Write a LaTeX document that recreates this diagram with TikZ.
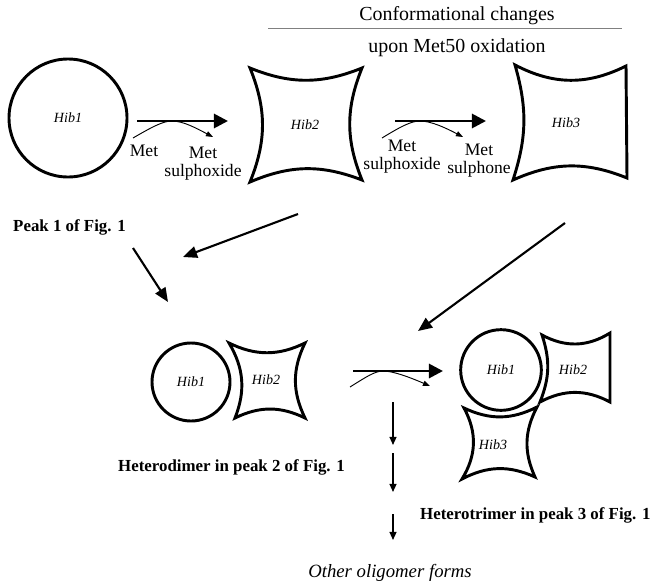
\documentclass[tikz,border=0pt]{standalone}
\usepackage{fontspec}
\setmainfont{Liberation Serif}
\usetikzlibrary{arrows.meta}

\begin{document}
\begin{tikzpicture}[x=0.03cm, y=-0.03cm,
    shell/.style={line width=2.5pt},
    ball/.style={circle, draw, line width=2.5pt, inner sep=0pt},
    react/.style={line width=2.4pt, -{Triangle[length=12pt, width=12pt]}},
    side/.style={line width=0.8pt, -{Triangle[length=6pt, width=4.5pt]}},
    flow/.style={line width=1.8pt, -{Triangle[length=12pt, width=10pt]}},
    drop/.style={line width=1.3pt, -{Triangle[length=7pt, width=6pt]}},
    lab/.style={font=\fontsize{12}{14}\selectfont\itshape},
    met/.style={font=\fontsize{15}{16}\selectfont, align=center, inner sep=0pt},
    head/.style={font=\fontsize{17}{20}\selectfont},
    peak/.style={font=\fontsize{14.4}{16}\selectfont\bfseries, anchor=west, inner sep=0pt}]
    \useasboundingbox (0,0) rectangle (651,586);

    % monomers
    \node[ball, minimum size=3.54cm, lab] (hib1) at (68,118) {Hib1};
    \node[lab] (hib2) at (305,125) {Hib2};
    \node[lab] (hib3) at (566,123) {Hib3};
    \draw[shell] (250,68) to[bend right=22] (362,68) to[bend right=22] (362,180)
        to[bend right=22] (250,182) to[bend right=22] cycle;
    \draw[shell] (515,65) to[bend right=27] (626,66) -- (627,178)
        to[bend right=23] (513,180) to[bend right=17] cycle;

    % heading
    \node[head] (conf) at (457,16) {Conformational changes};
    \node[head] (upon) at (457,48) {upon Met50 oxidation};
    \coordinate (rule1) at (268,28);
    \coordinate (rule2) at (622,28);
    \draw[gray, line width=0.6pt] (rule1) -- (rule2);

    % oxidation steps
    \coordinate (ox1a) at (137,121);
    \coordinate (ox1b) at (228,121);
    \coordinate (ox2a) at (395,121);
    \coordinate (ox2b) at (486,121);
    \draw[react] (ox1a) -- (ox1b);
    \draw[react] (ox2a) -- (ox2b);
    \draw[side] (133,138) .. controls (152,127) and (163,121) .. (172,121)
        .. controls (183,121) and (196,128) .. (213,137);
    \draw[side] (382,138) .. controls (400,127) and (411,121) .. (420,121)
        .. controls (431,121) and (446,128) .. (463,137);
    \node[met] (met1) at (144,151) {Met};
    \node[met] (sox1) at (203,163.5) {Met\\sulphoxide};
    \node[met] (sox2) at (402,156.5) {Met\\sulphoxide};
    \node[met] (sone) at (479,160.5) {Met\\sulphone};

    % association
    \node[peak] (peak1) at (13,227) {Peak 1 of Fig. 1};
    \coordinate (p1a) at (133,248);
    \coordinate (p1b) at (168,302);
    \coordinate (h2a) at (298,214);
    \coordinate (h2b) at (183,257);
    \coordinate (h3a) at (565,223);
    \coordinate (h3b) at (418,331);
    \draw[flow] (p1a) -- (p1b);
    \draw[flow] (h2a) -- (h2b);
    \draw[flow] (h3a) -- (h3b);

    % heterodimer
    \node[ball, minimum size=2.34cm, lab] (dim1) at (191,382) {Hib1};
    \node[lab] (dim2) at (266,380) {Hib2};
    \draw[shell] (229,343) to[bend right=26] (305,343) to[bend right=26] (305,418)
        to[bend right=26] (235,418) to[bend right=26] cycle;
    \node[peak] (dimer) at (118,467) {Heterodimer in peak 2 of Fig. 1};

    % third oxidation
    \coordinate (ox3a) at (353,371);
    \coordinate (ox3b) at (443,371);
    \draw[react] (ox3a) -- (ox3b);
    \draw[side] (350,387) .. controls (366,377) and (375,371) .. (383,371)
        .. controls (393,371) and (409,377) .. (430,386);

    % heterotrimer
    \node[ball, minimum size=2.42cm, lab] (tri1) at (501,370) {Hib1};
    \node[lab] (tri2) at (573,370) {Hib2};
    \node[lab] (tri3) at (493,445) {Hib3};
    \draw[shell] (542,335) to[bend right=30] (610,333) -- (610,402)
        to[bend right=28] (540,402) to[bend right=20] cycle;
    \draw[shell] (464,408) to[bend right=26] (537,407) to[bend right=26] (535,477)
        to[bend right=26] (462,479) to[bend right=30] cycle;
    \node[peak] (trimer) at (420,515) {Heterotrimer in peak 3 of Fig. 1};

    % further oligomers
    \foreach \ya/\yb [count=\i] in {402/445, 453/492, 514/540} {
        \coordinate (d\i a) at (393,\ya);
        \coordinate (d\i b) at (393,\yb);
        \draw[drop] (d\i a) -- (d\i b);
    }
    \node[font=\fontsize{16}{18}\selectfont\itshape] (other) at (390,573) {Other oligomer forms};
\end{tikzpicture}
\end{document}
